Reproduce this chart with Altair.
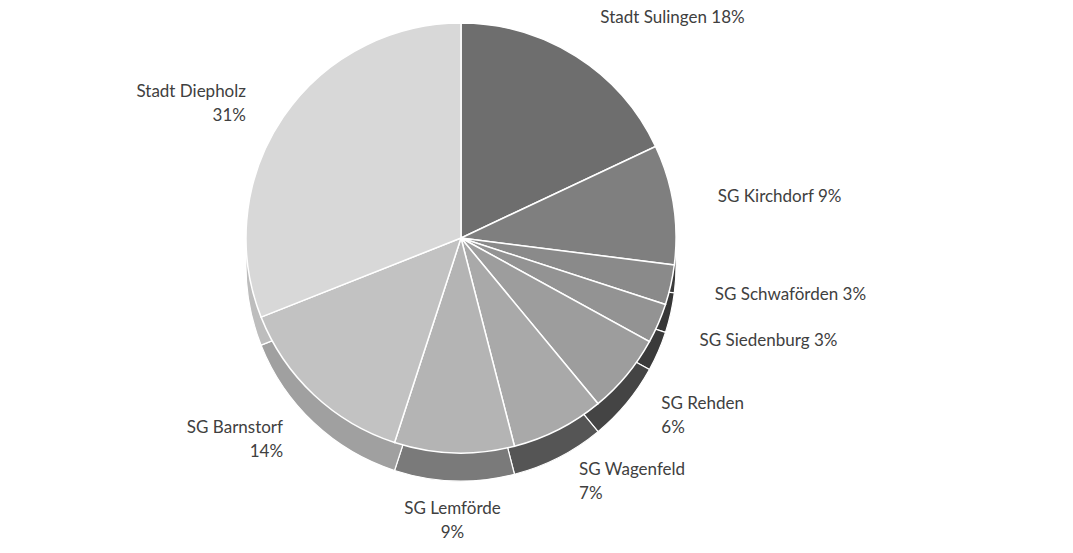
import altair as alt
import pandas as pd

names = ["Stadt Sulingen", "SG Kirchdorf", "SG Schwaförden", "SG Siedenburg", "SG Rehden",
         "SG Wagenfeld", "SG Lemförde", "SG Barnstorf", "Stadt Diepholz"]
shares = [18, 9, 3, 3, 6, 7, 9, 14, 31]
labels = ["Stadt Sulingen 18%", "SG Kirchdorf  9%", "SG Schwaförden 3%", "SG Siedenburg 3%",
          "SG Rehden\n6%", "SG Wagenfeld\n7%", "SG Lemförde\n9%", "SG Barnstorf\n14%",
          "Stadt Diepholz\n31%"]
top_colors = ["#6e6e6e", "#7f7f7f", "#8a8a8a", "#939393", "#9d9d9d",
              "#a9a9a9", "#b4b4b4", "#c2c2c2", "#d8d8d8"]
side_colors = ["#3e3e3e", "#3a3a3a", "#363636", "#3a3a3a", "#444444",
               "#555555", "#7a7a7a", "#a0a0a0", "#bdbdbd"]

df = pd.DataFrame({"name": names, "share": shares, "label": labels,
                   "idx": list(range(len(names)))})

cx, cy = 461, 238
R = 215
DEPTH = 28

base = alt.Chart(df).encode(
    theta=alt.Theta("share:Q", stack=True),
    order=alt.Order("idx:Q"),
    x=alt.value(cx),
    y=alt.value(cy),
)

side = base.mark_arc(outerRadius=R, yOffset=DEPTH, stroke="white", strokeWidth=1.2).encode(
    color=alt.Color("name:N", scale=alt.Scale(domain=names, range=side_colors), legend=None)
)
top = base.mark_arc(outerRadius=R, stroke="white", strokeWidth=1.5).encode(
    color=alt.Color("name:N", scale=alt.Scale(domain=names, range=top_colors), legend=None)
)

lab = alt.Chart(df).transform_window(
    cum="sum(share)", sort=[alt.SortField("idx")]
).transform_calculate(
    mid="datum.cum - datum.share / 2"
).encode(
    theta=alt.Theta("mid:Q", stack=None, scale=alt.Scale(domain=[0, 100])),
    x=alt.value(cx),
    y=alt.value(cy),
    text="label:N",
)
tstyle = dict(font="Lato", fontSize=17, color="#404040", lineBreak="\n", lineHeight=24,
              baseline="middle")
right = lab.transform_filter("datum.mid > 3 && datum.mid < 46").mark_text(
    radius=R + 45, align="left", **tstyle)
left = lab.transform_filter("datum.mid > 54 && datum.mid < 97").mark_text(
    radius=R + 45, align="right", **tstyle)
center = lab.transform_filter("datum.mid >= 46 && datum.mid <= 54").mark_text(
    radius=R + DEPTH + 28, align="center", **tstyle)

chart = alt.layer(side, top, right, left, center).resolve_scale(
    color="independent", theta="independent"
).properties(
    width=1073, height=553, padding=0
).configure_view(stroke=None)

chart.save("out.html", embed_options={"renderer": "svg", "actions": False})
